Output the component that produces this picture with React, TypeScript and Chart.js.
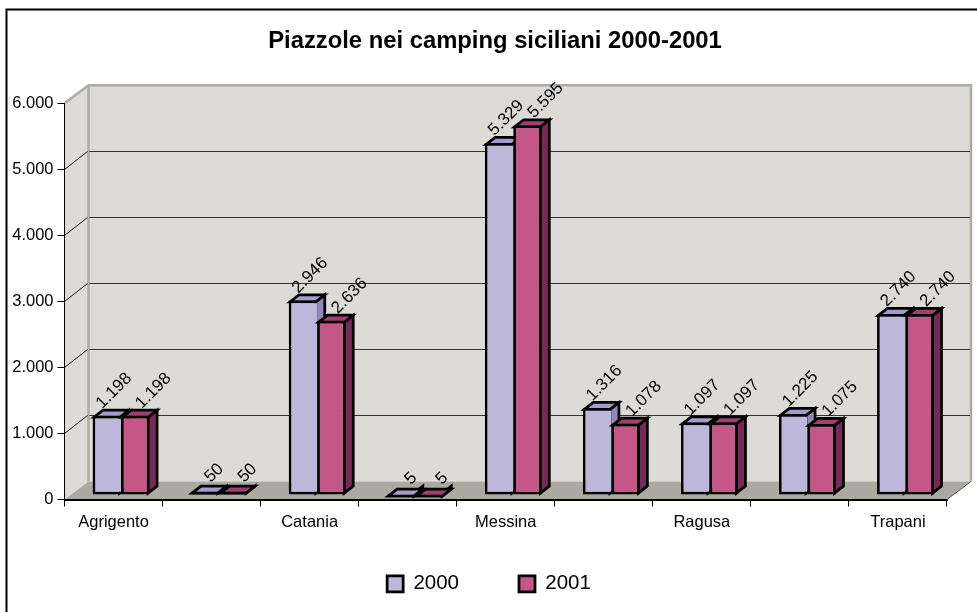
import React, { useEffect, useRef } from "react";
import { Chart, registerables } from "chart.js";

Chart.register(...registerables);

const categories = ["Agrigento", "Caltanissetta", "Catania", "Enna", "Messina", "Palermo", "Ragusa", "Siracusa", "Trapani"];
const values2000 = [1198, 50, 2946, 5, 5329, 1316, 1097, 1225, 2740];
const values2001 = [1198, 50, 2636, 5, 5595, 1078, 1097, 1075, 2740];
const titleText = "Piazzole nei camping siciliani 2000-2001";

const FONT = "'Liberation Sans', Arial, sans-serif";
const WALL = { dx: 24, dy: -18 };
const BAR_SHIFT = { dx: 7.5, dy: -4.5 };
const BAR_DEPTH = { dx: 9, dy: -7 };
const EDGE = 2.75;
const FACES: Record<number, { top: string; side: string }> = {
  0: { top: "#A39CCC", side: "#8F89B8" },
  1: { top: "#A03F70", side: "#762A55" },
};
const LABEL_SPREAD: Record<number, number> = { 0: -0.09, 1: 0.17 };

const fmt = (v: number) => String(v).replace(/\B(?=(\d{3})+(?!\d))/g, ".");

const scene = {
  id: "scene3d",
  afterLayout(chart: any) {
    chart.titleBlock.left += 43;
    chart.legend.left += 31;
    chart.legend.top -= 18;
    chart.legend.bottom -= 18;
  },
  beforeDraw(chart: any) {
    const { ctx, chartArea: a, scales } = chart;
    const { left, right, top, bottom } = a;
    const { dx, dy } = WALL;
    ctx.save();
    // outer chart frame
    ctx.strokeStyle = "#000";
    ctx.lineWidth = 2;
    ctx.beginPath();
    ctx.moveTo(6.5, 612);
    ctx.lineTo(6.5, 9.5);
    ctx.lineTo(977, 9.5);
    ctx.stroke();
    // walls and floor
    ctx.fillStyle = "#DCDBD7";
    ctx.fillRect(left + dx, top + dy, right - left, bottom - top);
    ctx.beginPath();
    ctx.moveTo(left, top);
    ctx.lineTo(left + dx, top + dy);
    ctx.lineTo(left + dx, bottom + dy);
    ctx.lineTo(left, bottom);
    ctx.closePath();
    ctx.fill();
    ctx.fillStyle = "#ACA9A3";
    ctx.beginPath();
    ctx.moveTo(left, bottom);
    ctx.lineTo(right, bottom);
    ctx.lineTo(right + dx, bottom + dy);
    ctx.lineTo(left + dx, bottom + dy);
    ctx.closePath();
    ctx.fill();
    // wall edges
    ctx.strokeStyle = "#AEABA5";
    ctx.lineWidth = 2.5;
    ctx.beginPath();
    ctx.moveTo(left, top);
    ctx.lineTo(left + dx, top + dy);
    ctx.lineTo(right + dx, top + dy);
    ctx.lineTo(right + dx, bottom + dy);
    ctx.moveTo(left + dx, top + dy);
    ctx.lineTo(left + dx, bottom + dy);
    ctx.stroke();
    ctx.strokeStyle = "#555";
    ctx.lineWidth = 1;
    ctx.beginPath();
    ctx.moveTo(right, bottom);
    ctx.lineTo(right + dx, bottom + dy);
    ctx.stroke();
    // grid lines on the walls
    const y = scales.y;
    y.ticks.forEach((t: any) => {
      if (t.value === 0 || t.value === y.max) return;
      const py = Math.round(y.getPixelForValue(t.value)) + 0.5;
      ctx.strokeStyle = "#111";
      ctx.lineWidth = 1;
      ctx.beginPath();
      ctx.moveTo(left, py);
      ctx.lineTo(left + dx - 1, py + dy);
      ctx.stroke();
      ctx.strokeStyle = "#333";
      ctx.beginPath();
      ctx.moveTo(left + dx + 1, py + dy);
      ctx.lineTo(right + dx - 1, py + dy);
      ctx.stroke();
    });
    ctx.restore();
  },
  beforeDatasetsDraw(chart: any) {
    const { ctx } = chart;
    // value labels sit behind the bars
    ctx.save();
    ctx.fillStyle = "#000";
    ctx.font = `17px ${FONT}`;
    ctx.textAlign = "center";
    ctx.textBaseline = "middle";
    chart.data.datasets.forEach((ds: any, i: number) => {
      chart.getDatasetMeta(i).data.forEach((bar: any, j: number) => {
        const text = fmt(ds.data[j]);
        const L = ctx.measureText(text).width;
        ctx.save();
        ctx.translate(
          bar.x + BAR_SHIFT.dx + 11 + LABEL_SPREAD[i] * L,
          bar.y + BAR_SHIFT.dy - 13.5 - 0.27 * L,
        );
        ctx.rotate(-Math.PI / 4);
        ctx.fillText(text, 0, 0);
        ctx.restore();
      });
    });
    ctx.restore();

    // bars: 2000 first, so the 2001 front face covers its side
    chart.data.datasets.forEach((_ds: any, i: number) => {
      const meta = chart.getDatasetMeta(i);
      const faces = FACES[i];
      ctx.save();
      ctx.translate(BAR_SHIFT.dx, BAR_SHIFT.dy);
      ctx.strokeStyle = "#000";
      ctx.lineWidth = EDGE;
      ctx.lineJoin = "miter";
      meta.data.forEach((bar: any) => {
        const r = bar.x + bar.width / 2 - EDGE / 2;
        const l = bar.x - bar.width / 2 + EDGE / 2;
        const t = bar.y + EDGE / 2;
        const b = bar.base - EDGE / 2;
        const d = BAR_DEPTH;
        ctx.fillStyle = faces.side;
        ctx.beginPath();
        ctx.moveTo(r, t);
        ctx.lineTo(r + d.dx, t + d.dy);
        ctx.lineTo(r + d.dx, b + d.dy);
        ctx.lineTo(r, b);
        ctx.closePath();
        ctx.fill();
        ctx.stroke();
        ctx.fillStyle = faces.top;
        ctx.beginPath();
        ctx.moveTo(l, t);
        ctx.lineTo(l + d.dx, t + d.dy);
        ctx.lineTo(r + d.dx, t + d.dy);
        ctx.lineTo(r, t);
        ctx.closePath();
        ctx.fill();
        ctx.stroke();
      });
      meta.controller.draw();
      ctx.restore();
    });
  },
  beforeDatasetDraw() {
    return false;
  },
};

export default function App() {
  const ref = useRef<HTMLCanvasElement | null>(null);
  useEffect(() => {
    const chart = new Chart(ref.current as HTMLCanvasElement, {
      type: "bar",
      data: {
        labels: categories,
        datasets: [
          {
            label: "2000",
            data: values2000,
            backgroundColor: "#BDB8D9",
            borderColor: "#000",
            borderWidth: EDGE,
            borderSkipped: "right",
          } as any,
          {
            label: "2001",
            data: values2001,
            backgroundColor: "#C55788",
            borderColor: "#000",
            borderWidth: EDGE,
            borderSkipped: false,
          } as any,
        ],
      },
      options: {
        responsive: false,
        animation: false,
        devicePixelRatio: 1,
        layout: { padding: { left: 0, right: 30, top: 0, bottom: -10 } },
        datasets: { bar: { categoryPercentage: 0.58, barPercentage: 1 } },
        plugins: {
          tooltip: { enabled: false },
          title: {
            display: true,
            text: titleText,
            color: "#000",
            font: { family: FONT, size: 23.8, weight: "bold", lineHeight: 1.2 },
            padding: { top: 27.5, bottom: 47.1 },
          },
          legend: {
            position: "bottom",
            labels: {
              color: "#000",
              font: { family: FONT, size: 20.5 },
              boxWidth: 16,
              boxHeight: 16,
              padding: 60,
            },
          },
        },
        scales: {
          x: {
            afterFit: (s: any) => { s.height = 32; },
            grid: { drawOnChartArea: false, drawTicks: true, tickLength: 7, color: "#000", lineWidth: 1 },
            border: { display: true, color: "#000", width: 2 },
            ticks: {
              color: "#000",
              font: { family: FONT, size: 16.5 },
              autoSkip: false,
              maxRotation: 0,
              minRotation: 0,
              padding: 6,
              callback: (_v: any, i: number) => (i % 2 === 0 ? categories[i] : ""),
            },
          },
          y: {
            min: 0,
            max: 6000,
            afterFit: (s: any) => { s.width = 64.5; },
            grid: { drawOnChartArea: false, drawTicks: true, tickLength: 7, color: "#000", lineWidth: 1 },
            border: { display: true, color: "#000", width: 1 },
            ticks: {
              stepSize: 1000,
              color: "#000",
              font: { family: FONT, size: 16.5 },
              padding: 4,
              callback: (v: any) => fmt(Number(v)),
            },
          },
        },
      },
      plugins: [scene],
    } as any);
    return () => chart.destroy();
  }, []);
  return (
    <div style={{ position: "fixed", left: 0, top: 0, width: 977, height: 612, background: "#fff" }}>
      <canvas ref={ref} width={977} height={612} style={{ display: "block" }} />
    </div>
  );
}
